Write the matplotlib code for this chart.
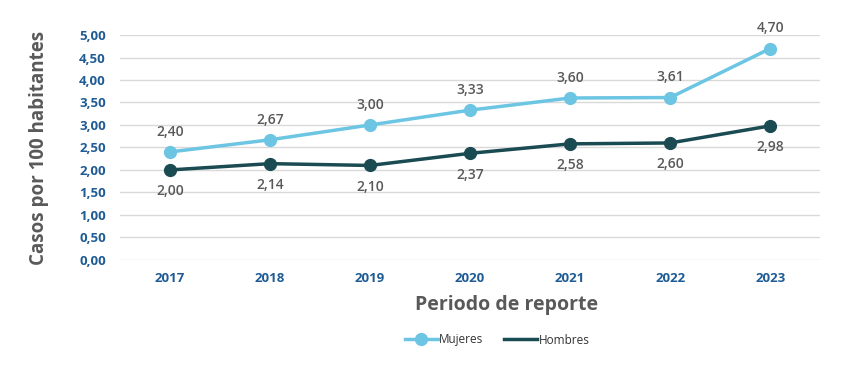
import matplotlib.pyplot as plt
import numpy as np
from matplotlib.lines import Line2D

plt.rcParams['font.family'] = ['Open Sans', 'DejaVu Sans']

years = ['2017', '2018', '2019', '2020', '2021', '2022', '2023']
mujeres = [2.40, 2.67, 3.00, 3.33, 3.60, 3.61, 4.70]
hombres = [2.00, 2.14, 2.10, 2.37, 2.58, 2.60, 2.98]

c_muj = '#6cc5e3'
c_hom = '#1a4a52'
c_tick = '#1f5b94'
c_text = '#595959'

def fmt(v):
    return f'{v:.2f}'.replace('.', ',')

fig = plt.figure(figsize=(8.5, 3.65), dpi=100)
ax = fig.add_axes([0.141, 0.288, 0.824, 0.616])

x = np.arange(len(years))
ax.plot(x, mujeres, color=c_muj, lw=2.5, marker='o', ms=8.5, zorder=3)
ax.plot(x, hombres, color=c_hom, lw=2.5, marker='o', ms=8.5, zorder=3)

for i in x:
    ax.annotate(fmt(mujeres[i]), (i, mujeres[i]), xytext=(0, 14.5), textcoords='offset points',
                ha='center', va='center', fontsize=10, fontweight='semibold', color=c_text)
    ax.annotate(fmt(hombres[i]), (i, hombres[i]), xytext=(0, -15.5), textcoords='offset points',
                ha='center', va='center', fontsize=10, fontweight='semibold', color=c_text)

ax.set_xlim(-0.5, 6.5)
ax.set_ylim(0, 5)
ax.set_yticks(np.arange(0, 5.01, 0.5))
ax.set_yticklabels([fmt(v) for v in np.arange(0, 5.01, 0.5)])
ax.set_xticks(x)
ax.set_xticklabels(years)
ax.tick_params(length=0, labelsize=9.5, labelcolor=c_tick)
ax.tick_params(axis='x', pad=9)
ax.tick_params(axis='y', pad=10)
for lab in ax.get_xticklabels() + ax.get_yticklabels():
    lab.set_fontweight('bold')
ax.grid(axis='y', color='#d9d9d9', lw=1)
ax.set_axisbelow(True)
for s in ax.spines.values():
    s.set_visible(False)

ax.set_ylabel('Casos por 100 habitantes', fontsize=13.5, fontweight='bold', color=c_text, labelpad=22)
fig.text(507 / 850, 1 - 305 / 365, 'Periodo de reporte', ha='center', va='center',
         fontsize=14, fontweight='bold', color=c_text)

handles = [Line2D([], [], color=c_muj, lw=2.5, marker='o', ms=8.5),
           Line2D([], [], color=c_hom, lw=2.5)]
fig.legend(handles, ['Mujeres', 'Hombres'], loc='center', bbox_to_anchor=(497 / 850, 1 - 340 / 365),
           ncol=2, frameon=False, fontsize=8.5, handlelength=2.8, handletextpad=0.1,
           columnspacing=1.8, labelcolor='#333333')

plt.savefig('out.png')
